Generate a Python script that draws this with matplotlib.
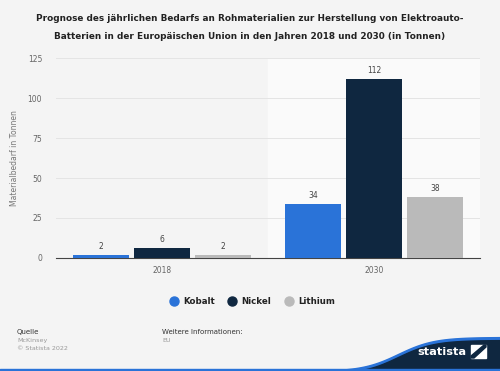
import numpy as np
import matplotlib.pyplot as plt
from matplotlib.lines import Line2D

jahre = ['2018', '2030']
materialien = ['Kobalt', 'Nickel', 'Lithium']
kobalt = [2, 34]
nickel = [6, 112]
lithium = [2, 38]
farben = ['#2a73d8', '#0f2740', '#bababa']

bg = '#f4f4f4'
fig = plt.figure(figsize=(5, 3.71), dpi=100, facecolor=bg)
ax = fig.add_axes([0.112, 0.3046, 0.848, 0.539], facecolor=bg)

x = np.arange(len(jahre))
breite = 0.26
abstand = 0.028
for i, (name, werte) in enumerate(zip(materialien, [kobalt, nickel, lithium])):
    pos = x + (i - 1) * (breite + abstand)
    bars = ax.bar(pos, werte, width=breite, color=farben[i], zorder=3, label=name)
    for b, v in zip(bars, werte):
        ax.text(b.get_x() + b.get_width() / 2, v + 2.5, str(v), ha='center',
                va='bottom', fontsize=5.5, color='#444444', zorder=4)

ax.axvspan(0.5, 1.5, color='#fafafa', zorder=0)
ax.set_xlim(-0.5, 1.5)
ax.set_ylim(0, 125)
ax.set_yticks([0, 25, 50, 75, 100, 125])
ax.grid(axis='y', color='#e4e4e4', linewidth=0.7, zorder=1)
ax.set_xticks(x)
ax.set_xticklabels(jahre)
ax.tick_params(axis='both', length=0, labelsize=5.5, labelcolor='#666666')
ax.tick_params(axis='x', pad=6)
ax.tick_params(axis='y', pad=10)
for s in ['top', 'right', 'left']:
    ax.spines[s].set_visible(False)
ax.spines['bottom'].set_color('#444444')
ax.spines['bottom'].set_linewidth(0.8)
ax.set_ylabel('Materialbedarf in Tonnen', fontsize=5.5, color='#777777', labelpad=6)

fig.text(0.5, 0.962, 'Prognose des jährlichen Bedarfs an Rohmaterialien zur Herstellung von Elektroauto-\n'
         'Batterien in der Europäischen Union in den Jahren 2018 und 2030 (in Tonnen)',
         ha='center', va='top', fontsize=6.4, fontweight='bold', color='#222222',
         linespacing=2.25)

handles = [Line2D([], [], marker='o', linestyle='', markersize=6.5, color=c) for c in farben]
leg = fig.legend(handles, materialien, loc='center', bbox_to_anchor=(0.5, 0.186), ncol=3,
                 frameon=False, handletextpad=0.1, columnspacing=1.0,
                 prop={'size': 6.2, 'weight': 'bold'})
for t in leg.get_texts():
    t.set_color('#222222')

fig.text(0.034, 0.105, 'Quelle', fontsize=5, color='#333333', va='center')
fig.text(0.034, 0.083, 'McKinsey', fontsize=4.6, color='#999999', va='center')
fig.text(0.034, 0.061, '© Statista 2022', fontsize=4.6, color='#999999', va='center')
fig.text(0.324, 0.105, 'Weitere Informationen:', fontsize=5, color='#333333', va='center')
fig.text(0.324, 0.083, 'EU', fontsize=4.6, color='#999999', va='center')

# Logo-Welle unten rechts
lax = fig.add_axes([0, 0, 1, 1], facecolor='none', zorder=-1)
lax.set_xlim(0, 500)
lax.set_ylim(371, 0)
lax.axis('off')
xs = np.linspace(250, 500, 300)
welle = 371 - 34 / (1 + np.exp(-(xs - 398) / 18))
lax.fill_between(xs, welle, 371, color='#2a73d8')
lax.fill_between(xs, welle + 3, 371, color='#0f2740')
lax.fill_between([0, 500], 368.5, 371, color='#2a73d8')
fig.text(0.884, 0.051, 'statista', fontsize=8.2, fontweight='bold', color='white',
         ha='center', va='center')
lax.add_patch(plt.Polygon([[471, 345], [486, 345], [486, 358], [471, 358]], color='white'))
lax.add_patch(plt.Polygon([[471, 356], [484, 345], [486, 345], [486, 347], [474, 358], [471, 358]],
                          color='#0f2740'))

fig.savefig('out.png', dpi=100, facecolor=bg)
